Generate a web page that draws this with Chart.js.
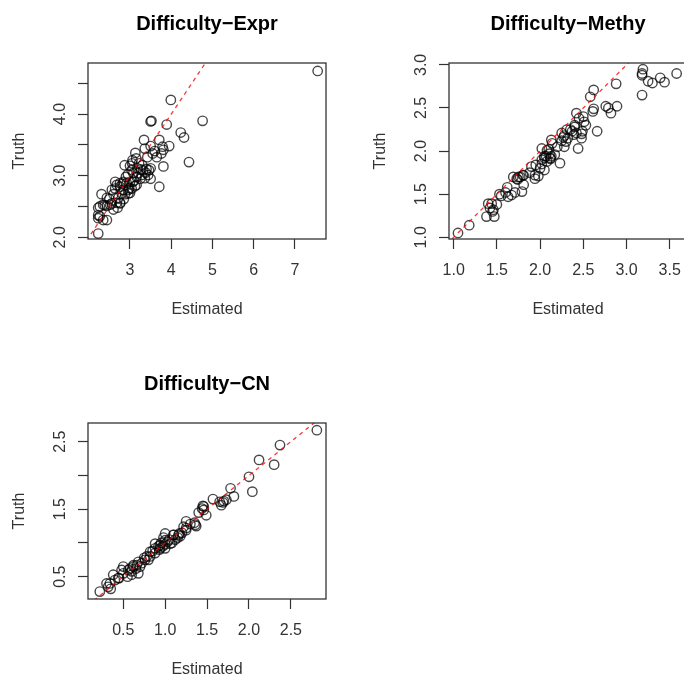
<!DOCTYPE html>
<html>
<head>
<meta charset="utf-8">
<script src="https://cdn.jsdelivr.net/npm/chart.js@4.4.0/dist/chart.umd.min.js"></script>
<style>
  body { margin: 0; width: 684px; height: 680px; overflow: hidden; background: #fff; position: relative; }
  .panel { position: absolute; width: 361px; height: 360px; }
</style>
</head>
<body>
<div class="panel" style="left:0;top:0"><canvas id="exprChart" width="361" height="360"></canvas></div>
<div class="panel" style="left:361px;top:0"><canvas id="methyChart" width="361" height="360"></canvas></div>
<div class="panel" style="left:0;top:360px"><canvas id="cnChart" width="361" height="360"></canvas></div>
<script>
// Difficulty-Expr (estimated vs truth)
const exprEst = [7.55, 3.99, 3.50, 3.52, 3.89, 4.76, 4.23, 4.31, 4.43, 3.34, 3.71, 3.95, 3.79, 3.81, 3.50, 3.36,
  3.55, 3.76, 3.13, 3.06, 3.81, 3.71, 3.50, 2.87, 3.00, 3.30, 3.40, 3.50, 3.20, 3.28, 3.38, 3.46, 3.04, 3.08,
  3.16, 2.64, 2.68, 2.76, 2.82, 2.92, 3.00, 3.07, 2.84, 2.96, 3.04, 2.88, 3.00, 3.12, 3.16, 2.56, 2.64, 2.60,
  2.72, 2.68, 2.76, 2.52, 2.44, 2.31, 2.23, 2.35, 2.44, 2.23, 2.35, 2.44, 2.27, 2.23, 3.32, 3.44, 3.36, 2.76,
  2.84, 2.96, 2.80, 2.76, 2.27, 2.39, 2.56, 2.23, 3.22, 3.26, 3.18, 2.95, 2.90, 3.10, 3.25, 2.98, 2.85, 2.70,
  2.60, 3.42, 3.60, 3.65, 3.05, 3.15, 2.50];
const exprTruth = [4.70, 4.23, 3.88, 3.89, 3.83, 3.89, 3.70, 3.62, 3.22, 3.58, 3.58, 3.48, 3.47, 3.42, 3.48, 3.44,
  3.36, 3.36, 3.37, 3.25, 3.15, 2.82, 2.95, 3.17, 3.16, 3.17, 3.11, 3.12, 3.04, 3.01, 3.05, 3.09, 3.09, 3.04,
  2.98, 2.90, 2.85, 2.82, 2.87, 2.88, 2.90, 2.90, 2.77, 2.77, 2.79, 2.70, 2.72, 2.83, 2.85, 2.77, 2.79, 2.70,
  2.64, 2.56, 2.56, 2.53, 2.64, 2.70, 2.48, 2.53, 2.51, 2.31, 2.28, 2.28, 2.34, 2.06, 3.09, 3.01, 2.96, 2.88,
  2.90, 2.71, 2.71, 2.55, 2.50, 2.52, 2.55, 2.36, 3.20, 3.10, 3.12, 3.02, 2.98, 2.92, 2.95, 2.80, 2.62, 2.48,
  2.45, 3.30, 3.40, 3.30, 3.20, 3.28, 2.62];

// Difficulty-Methy
const methyEst = [1.05, 1.18, 1.38, 1.47, 1.42, 1.44, 1.50, 1.40, 1.46, 1.53, 1.63, 1.67, 1.71, 1.62, 1.69, 1.77,
  1.81, 1.74, 1.81, 1.79, 1.73, 1.94, 1.94, 1.98, 1.95, 2.00, 2.05, 2.02, 2.05, 2.02, 2.08, 2.11, 2.13, 2.07,
  2.12, 2.17, 2.23, 2.13, 2.14, 2.25, 2.27, 2.30, 2.28, 2.31, 2.37, 2.39, 2.42, 2.44, 2.40, 2.42, 2.50, 2.53,
  2.49, 2.48, 2.51, 2.58, 2.62, 2.61, 2.62, 2.66, 2.76, 2.79, 2.82, 2.89, 2.88, 3.18, 3.19, 3.18, 3.18, 3.25,
  3.30, 3.39, 3.44, 3.58, 1.88, 1.90, 2.05, 2.08, 2.10, 2.12, 2.02, 2.25, 2.28, 2.32, 2.35, 2.40, 2.45, 1.55,
  1.60, 1.75, 1.80, 2.20, 2.48, 1.45];
const methyTruth = [1.05, 1.14, 1.24, 1.24, 1.34, 1.39, 1.38, 1.39, 1.32, 1.50, 1.47, 1.49, 1.52, 1.58, 1.70, 1.70,
  1.72, 1.67, 1.61, 1.53, 1.68, 1.72, 1.68, 1.71, 1.84, 1.80, 1.78, 1.90, 1.94, 2.03, 2.01, 1.97, 1.94, 1.94,
  1.91, 1.96, 1.86, 2.13, 2.09, 2.21, 2.16, 2.11, 2.05, 2.25, 2.23, 2.19, 2.21, 2.03, 2.28, 2.44, 2.40, 2.30,
  2.23, 2.15, 2.34, 2.63, 2.71, 2.46, 2.49, 2.23, 2.52, 2.50, 2.44, 2.52, 2.78, 2.90, 2.95, 2.88, 2.65, 2.81,
  2.79, 2.85, 2.80, 2.90, 1.75, 1.82, 1.92, 1.88, 2.02, 1.92, 1.85, 2.12, 2.18, 2.15, 2.25, 2.30, 2.38, 1.48,
  1.52, 1.70, 1.72, 2.05, 2.20, 1.30];

// Difficulty-CN
const cnEst = [2.81, 2.37, 2.12, 2.30, 2.00, 2.04, 1.78, 1.82, 1.69, 1.67, 1.65, 1.73, 1.57, 1.46, 1.46, 1.49,
  1.44, 1.36, 1.37, 1.25, 1.22, 1.25, 1.17, 1.16, 1.10, 1.00, 1.06, 1.00, 0.94, 0.88, 0.94, 0.88, 0.82, 0.78,
  0.76, 0.62, 0.66, 0.68, 0.48, 0.38, 0.44, 0.34, 0.32, 0.22, 0.60, 0.56, 0.50, 0.95, 1.00, 1.03, 1.05, 0.92,
  0.98, 1.08, 1.12, 1.15, 1.20, 1.25, 1.30, 0.85, 0.82, 0.75, 0.72, 0.68, 0.65, 0.62, 0.60, 0.55, 0.50, 0.45,
  0.40, 0.35, 0.30, 0.88, 0.93, 1.10, 1.40, 1.45, 1.70, 0.80, 0.70, 1.00, 0.97, 1.18, 1.35, 0.58];
const cnTruth = [2.67, 2.45, 2.23, 2.16, 1.98, 1.76, 1.81, 1.69, 1.60, 1.56, 1.61, 1.64, 1.65, 1.54, 1.49, 1.41,
  1.51, 1.27, 1.25, 1.32, 1.24, 1.19, 1.14, 1.12, 1.12, 1.14, 0.99, 1.04, 0.97, 0.99, 0.92, 0.92, 0.87, 0.80,
  0.75, 0.67, 0.67, 0.55, 0.60, 0.53, 0.48, 0.40, 0.35, 0.28, 0.53, 0.60, 0.65, 1.00, 0.98, 1.02, 1.05, 0.95,
  1.08, 1.00, 1.05, 1.08, 1.15, 1.22, 1.28, 0.88, 0.80, 0.78, 0.70, 0.72, 0.62, 0.65, 0.58, 0.50, 0.55, 0.48,
  0.45, 0.32, 0.40, 0.85, 0.90, 1.12, 1.45, 1.55, 1.62, 0.75, 0.65, 0.92, 0.95, 1.10, 1.30, 0.62];

// axis ranges and ticks
const exprXRange = [1.982, 7.752];
const exprYRange = [1.972, 4.829];
const exprXTicks = [3, 4, 5, 6, 7];
const exprXLabels = ['3', '4', '5', '6', '7'];
const exprYTicks = [2.0, 2.5, 3.0, 3.5, 4.0, 4.5];
const exprYLabels = ['2.0', '', '3.0', '', '4.0', ''];

const methyXRange = [0.946, 3.70];
const methyYRange = [0.980, 3.022];
const methyXTicks = [1.0, 1.5, 2.0, 2.5, 3.0, 3.5];
const methyXLabels = ['1.0', '1.5', '2.0', '2.5', '3.0', '3.5'];
const methyYTicks = [1.0, 1.5, 2.0, 2.5, 3.0];
const methyYLabels = ['1.0', '1.5', '2.0', '2.5', '3.0'];

const cnXRange = [0.079, 2.919];
const cnYRange = [0.170, 2.777];
const cnXTicks = [0.5, 1.0, 1.5, 2.0, 2.5];
const cnXLabels = ['0.5', '1.0', '1.5', '2.0', '2.5'];
const cnYTicks = [0.5, 1.0, 1.5, 2.0, 2.5];
const cnYLabels = ['0.5', '', '1.5', '', '2.5'];

// y = x reference line
const refLine = [0, 10];

Chart.defaults.font.family = "'Liberation Sans', Arial, sans-serif";

const boxPlugin = {
  id: 'plotBox',
  afterDraw(chart) {
    const a = chart.chartArea;
    const ctx = chart.ctx;
    ctx.save();
    ctx.strokeStyle = '#333';
    ctx.lineWidth = 1.3;
    ctx.strokeRect(a.left, a.top, a.right - a.left, a.bottom - a.top);
    ctx.restore();
  }
};

const pairs = (xs, ys) => xs.map((x, i) => ({ x: x, y: ys[i] }));

function makePanel(id, title, est, truth, xr, yr, xTicks, xLabels, yTicks, yLabels) {
  const tickGrid = { drawOnChartArea: false, drawTicks: true, tickLength: 10, tickColor: '#333', tickWidth: 1.2 };
  return new Chart(document.getElementById(id), {
    type: 'scatter',
    data: {
      datasets: [
        {
          data: pairs(refLine, refLine),
          showLine: true,
          borderColor: 'rgba(255,0,0,0.8)',
          borderDash: [4, 4],
          borderWidth: 1.3,
          pointRadius: 0,
          order: 0
        },
        {
          data: pairs(est, truth),
          pointStyle: 'circle',
          pointRadius: 4.7,
          borderWidth: 1.4,
          borderColor: 'rgba(0,0,0,0.72)',
          backgroundColor: 'rgba(0,0,0,0)',
          order: 1
        }
      ]
    },
    options: {
      responsive: false,
      animation: false,
      devicePixelRatio: 1,
      layout: { padding: { left: 0, top: 0, right: 35, bottom: 0 } },
      plugins: {
        legend: { display: false },
        tooltip: { enabled: false },
        title: {
          display: true,
          text: title,
          fullSize: false,
          color: '#000',
          font: { size: 20, weight: 'bold' },
          padding: { top: 12, bottom: 27 }
        }
      },
      scales: {
        x: {
          type: 'linear',
          min: xr[0],
          max: xr[1],
          afterBuildTicks: s => { s.ticks = xTicks.map(v => ({ value: v })); },
          afterFit: s => { s.height = 121; s.paddingLeft = 0; s.paddingRight = 0; },
          grid: tickGrid,
          border: { display: false },
          ticks: {
            autoSkip: false, minRotation: 0, maxRotation: 0, padding: 12,
            color: '#333', font: { size: 16 },
            callback: (v, i) => xLabels[i]
          },
          title: { display: true, text: 'Estimated', color: '#333', font: { size: 16 }, padding: { top: 0, bottom: 41 } }
        },
        y: {
          type: 'linear',
          min: yr[0],
          max: yr[1],
          afterBuildTicks: s => { s.ticks = yTicks.map(v => ({ value: v })); },
          afterFit: s => { s.width = 88; s.paddingTop = 0; s.paddingBottom = 0; },
          grid: tickGrid,
          border: { display: false },
          ticks: {
            autoSkip: false, minRotation: 90, maxRotation: 90, crossAlign: 'center', padding: 6,
            color: '#333', font: { size: 16 },
            callback: (v, i) => yLabels[i]
          },
          title: { display: true, text: 'Truth', color: '#333', font: { size: 16 }, padding: { top: 10, bottom: 0 } }
        }
      }
    },
    plugins: [boxPlugin]
  });
}

makePanel('exprChart', 'Difficulty\u2212Expr', exprEst, exprTruth, exprXRange, exprYRange,
  exprXTicks, exprXLabels, exprYTicks, exprYLabels);
makePanel('methyChart', 'Difficulty\u2212Methy', methyEst, methyTruth, methyXRange, methyYRange,
  methyXTicks, methyXLabels, methyYTicks, methyYLabels);
makePanel('cnChart', 'Difficulty\u2212CN', cnEst, cnTruth, cnXRange, cnYRange,
  cnXTicks, cnXLabels, cnYTicks, cnYLabels);
</script>
</body>
</html>
